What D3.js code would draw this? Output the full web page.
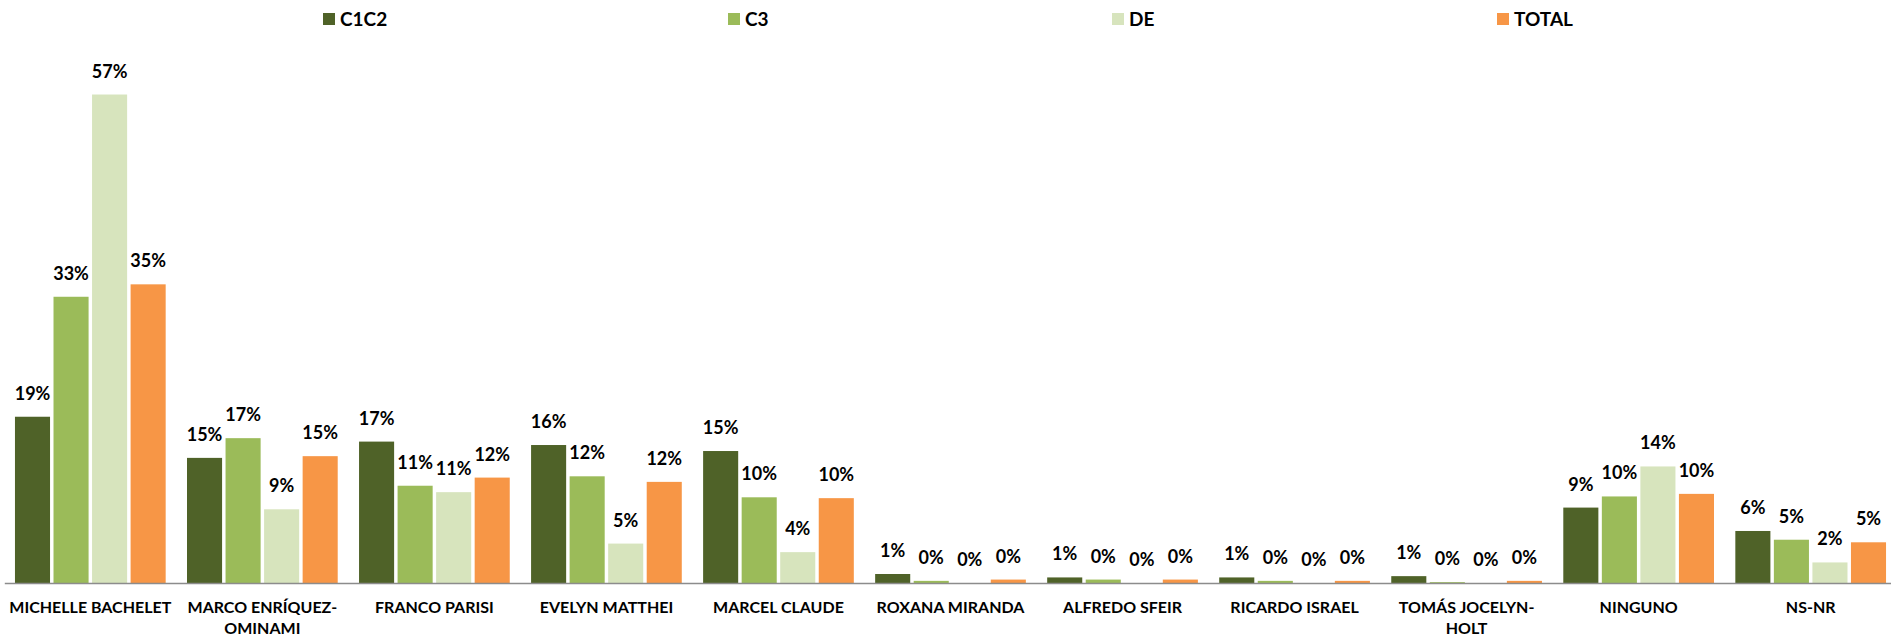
<!DOCTYPE html>
<html>
<head>
<meta charset="utf-8">
<script src="https://cdn.jsdelivr.net/npm/d3@7"></script>
<style>
  html, body { margin: 0; padding: 0; background: #ffffff; }
  svg { display: block; }
  text { font-family: "Lato", "Open Sans", "DejaVu Sans", sans-serif; font-weight: bold; fill: #000; }
</style>
</head>
<body>
<svg id="chart" width="1891" height="637"></svg>
<script>
// Voting intention by socioeconomic segment (values in %)
const categories = [
  "MICHELLE BACHELET", "MARCO ENRÍQUEZ-OMINAMI", "FRANCO PARISI", "EVELYN MATTHEI",
  "MARCEL CLAUDE", "ROXANA MIRANDA", "ALFREDO SFEIR", "RICARDO ISRAEL",
  "TOMÁS JOCELYN-HOLT", "NINGUNO", "NS-NR"
];
const seriesNames = ["C1C2", "C3", "DE", "TOTAL"];
const c1c2  = [19.4, 14.6, 16.5, 16.1, 15.4, 1.05, 0.65, 0.65, 0.8, 8.8, 6.07];
const c3    = [33.4, 16.9, 11.35, 12.45, 10.0, 0.25, 0.4, 0.25, 0.1, 10.1, 5.05];
const de    = [57.0, 8.6, 10.6, 4.6, 3.6, 0, 0, 0, 0, 13.6, 2.4];
const total = [34.85, 14.8, 12.3, 11.8, 9.9, 0.4, 0.4, 0.25, 0.25, 10.4, 4.75];
const seriesColors = ["#4F6228", "#9BBB59", "#D7E4BD", "#F79646"];

const seriesValues = [c1c2, c3, de, total];
const rows = categories.map((cat, i) => ({
  cat,
  values: seriesNames.map((s, j) => ({ series: s, value: seriesValues[j][i] }))
}));

const svg = d3.select("#chart");
const baseY = 583;

const x0 = d3.scaleBand()
  .domain(categories)
  .range([4.3, 1896.7])
  .paddingInner(0.124)
  .paddingOuter(0.062);

const x1 = d3.scaleBand()
  .domain(seriesNames)
  .range([0, x0.bandwidth()])
  .paddingInner(0.09);

const y = d3.scaleLinear()
  .domain([0, 60])
  .range([baseY, baseY - 60 * 8.57]);

const color = d3.scaleOrdinal().domain(seriesNames).range(seriesColors);

// bars
const groups = svg.append("g").selectAll("g")
  .data(rows)
  .join("g")
  .attr("transform", d => `translate(${x0(d.cat)},0)`);

groups.selectAll("rect")
  .data(d => d.values)
  .join("rect")
  .attr("x", d => x1(d.series))
  .attr("y", d => y(d.value))
  .attr("width", x1.bandwidth())
  .attr("height", d => baseY - y(d.value))
  .attr("fill", d => color(d.series));

// value labels
groups.selectAll("text.val")
  .data(d => d.values)
  .join("text")
  .attr("class", "val")
  .attr("x", d => x1(d.series) + x1.bandwidth() / 2)
  .attr("y", d => y(d.value) - 17)
  .attr("text-anchor", "middle")
  .style("font-size", "18px")
  .text(d => Math.round(d.value) + "%");

// category axis
const xAxis = d3.axisBottom(x0).tickSize(0).tickPadding(0);
const axisG = svg.append("g")
  .attr("transform", `translate(0,${baseY})`)
  .call(xAxis);
axisG.select(".domain").attr("stroke", "#8C8C8C").attr("stroke-width", 1.6);
axisG.selectAll(".tick text")
  .attr("fill", "#000")
  .style("font-size", "16px")
  .style("font-family", "Lato, 'Open Sans', sans-serif")
  .style("font-weight", "bold")
  .attr("dy", null)
  .attr("y", 30)
  .each(function (d) {
    const t = d3.select(this);
    if (this.getComputedTextLength() > x0.step() && d.includes("-")) {
      const cut = d.indexOf("-") + 1;
      const first = d.slice(0, cut), second = d.slice(cut);
      t.text(null);
      t.append("tspan").attr("x", 0).attr("y", 30).text(first);
      t.append("tspan").attr("x", 0).attr("y", 51).text(second);
    }
  });

// legend
const legendX = [323, 728, 1112, 1497];
const legend = svg.append("g").selectAll("g")
  .data(seriesNames)
  .join("g")
  .attr("transform", (d, i) => `translate(${legendX[i]},13)`);
legend.append("rect")
  .attr("width", 12).attr("height", 12)
  .attr("fill", d => color(d));
legend.append("text")
  .attr("x", 17).attr("y", 12.5)
  .style("font-size", "19px")
  .text(d => d);
</script>
</body>
</html>
